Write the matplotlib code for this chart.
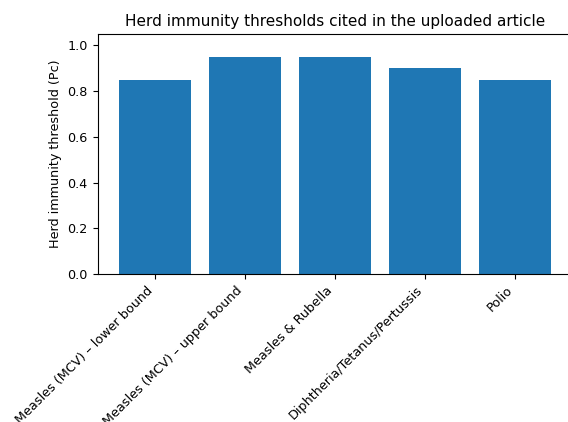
import matplotlib
matplotlib.use("Agg")
import matplotlib.pyplot as plt

categories = [
    "Measles (MCV) – lower bound",
    "Measles (MCV) – upper bound",
    "Measles & Rubella",
    "Diphtheria/Tetanus/Pertussis",
    "Polio",
]
thresholds = [0.85, 0.95, 0.95, 0.90, 0.85]

plt.rcParams["font.size"] = 9.2

W, H = 568, 422
fig = plt.figure(figsize=(W / 100, H / 100), dpi=100)
# axes runs slightly past the right edge, as in the cropped reference
ax = fig.add_axes([97.5 / W, 1 - 274 / H, 475 / W, 240 / H])

x = range(len(categories))
ax.bar(x, thresholds, width=0.8, color="#1f77b4")
ax.set_xticks(list(x))
ax.set_xticklabels(categories, rotation=45, ha="right")
ax.set_ylim(0, 1.05)
ax.set_ylabel("Herd immunity threshold (Pc)")
ax.set_title("Herd immunity thresholds cited in the uploaded article", fontsize=11)

fig.savefig("out.png", dpi=100)
